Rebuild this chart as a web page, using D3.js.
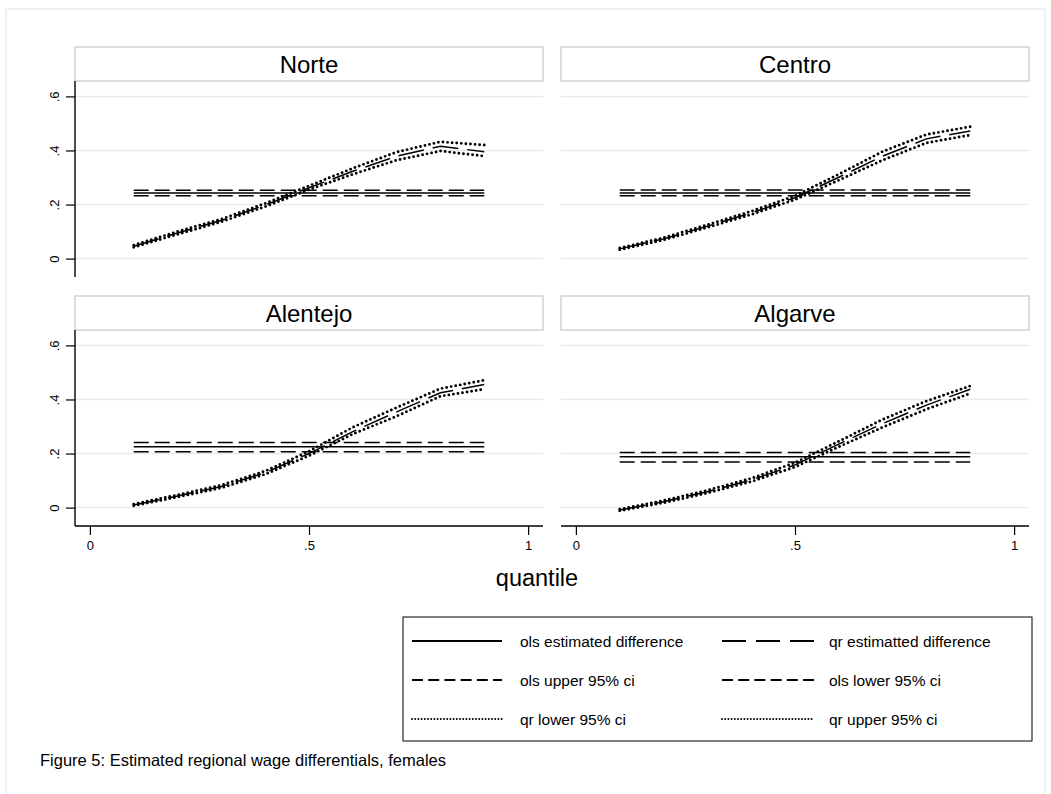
<!DOCTYPE html>
<html>
<head>
<meta charset="utf-8">
<script src="https://cdn.jsdelivr.net/npm/d3@7"></script>
<style>
  body { margin: 0; background: #ffffff; }
  text { font-family: "Liberation Sans", Arial, sans-serif; fill: #000; }
</style>
</head>
<body>
<script>
// Constantes de la visualización
const WIDTH = 1051;
const HEIGHT = 794;

// Datos
const cuantiles = [0.1, 0.2, 0.3, 0.4, 0.5, 0.6, 0.7, 0.8, 0.9];
const regiones = ["Norte", "Centro", "Alentejo", "Algarve"];

const qrNorte = [0.046, 0.095, 0.141, 0.198, 0.262, 0.323, 0.379, 0.416, 0.395];
const qrNorteInf = [0.042, 0.090, 0.136, 0.192, 0.255, 0.312, 0.364, 0.398, 0.379];
const qrNorteSup = [0.050, 0.100, 0.146, 0.204, 0.269, 0.334, 0.394, 0.432, 0.420];
const olsNorte = [0.243, 0.233, 0.253];

const qrCentro = [0.036, 0.073, 0.120, 0.169, 0.225, 0.301, 0.379, 0.443, 0.472];
const qrCentroInf = [0.033, 0.069, 0.115, 0.163, 0.218, 0.290, 0.364, 0.428, 0.457];
const qrCentroSup = [0.039, 0.077, 0.125, 0.175, 0.232, 0.312, 0.396, 0.459, 0.488];
const olsCentro = [0.243, 0.233, 0.254];

const qrAlentejo = [0.010, 0.043, 0.078, 0.129, 0.200, 0.281, 0.354, 0.425, 0.455];
const qrAlentejoInf = [0.007, 0.039, 0.073, 0.123, 0.192, 0.272, 0.338, 0.412, 0.438];
const qrAlentejoSup = [0.013, 0.047, 0.083, 0.135, 0.208, 0.297, 0.370, 0.440, 0.471];
const olsAlentejo = [0.225, 0.207, 0.241];

const qrAlgarve = [-0.009, 0.022, 0.059, 0.102, 0.158, 0.235, 0.311, 0.379, 0.438];
const qrAlgarveInf = [-0.012, 0.018, 0.054, 0.096, 0.150, 0.225, 0.297, 0.364, 0.422];
const qrAlgarveSup = [-0.006, 0.026, 0.064, 0.108, 0.166, 0.245, 0.326, 0.394, 0.450];
const olsAlgarve = [0.188, 0.169, 0.204];

const ticksY = [0, 0.2, 0.4, 0.6];
const ticksX = [0, 0.5, 1];
const etiquetasLeyenda = [
  "ols estimated difference", "qr estimatted difference",
  "ols upper 95% ci", "ols lower 95% ci",
  "qr lower 95% ci", "qr upper 95% ci"
];

const datosPanel = [
  { qr: qrNorte, inf: qrNorteInf, sup: qrNorteSup, ols: olsNorte },
  { qr: qrCentro, inf: qrCentroInf, sup: qrCentroSup, ols: olsCentro },
  { qr: qrAlentejo, inf: qrAlentejoInf, sup: qrAlentejoSup, ols: olsAlentejo },
  { qr: qrAlgarve, inf: qrAlgarveInf, sup: qrAlgarveSup, ols: olsAlgarve },
];

// Estilos de línea (en el gráfico y en la leyenda)
const ESTILOS = {
  olsEst: { dash: null, width: 1.5, cap: "butt", dashLey: null, widthLey: 2 },
  qrEst: { dash: "26,9", width: 1.5, cap: "butt", dashLey: "24,10", widthLey: 2 },
  olsCi: { dash: "15,6", width: 1.5, cap: "butt", dashLey: "11,5.2", widthLey: 2 },
  qrCi: { dash: "0,4.6", width: 2.9, cap: "round", dashLey: "0,3.2", widthLey: 2 },
};

// Geometría de los paneles
const COLS = [75, 561];
const ANCHO_PANEL = 468;
const FILAS = [47, 296];
const ALTO_CABECERA = 34;
const ALTO_PANEL = 196;

const svg = d3.select("body")
  .append("svg")
  .attr("width", WIDTH)
  .attr("height", HEIGHT);

// Marco exterior
svg.append("rect")
  .attr("x", 6).attr("y", 9)
  .attr("width", 1039).attr("height", 800)
  .attr("fill", "none")
  .attr("stroke", "#e6eef1")
  .attr("stroke-width", 1.5);

const escalaX = d3.scaleLinear()
  .domain([-0.034, 1.034])
  .range([0, ANCHO_PANEL]);

const escalaY = d3.scaleLinear()
  .domain([-0.068, 0.657])
  .range([ALTO_PANEL, 0]);

const dibujarLinea = (g, valores, estilo) => {
  const linea = d3.line()
    .x((d, i) => escalaX(cuantiles[i]))
    .y(d => escalaY(d));
  g.append("path")
    .attr("d", linea(valores))
    .attr("fill", "none")
    .attr("stroke", "#000")
    .attr("stroke-width", estilo.width)
    .attr("stroke-linecap", estilo.cap)
    .attr("stroke-dasharray", estilo.dash);
};

const dibujarHorizontal = (g, valor, estilo) => {
  g.append("line")
    .attr("x1", escalaX(cuantiles[0]))
    .attr("x2", escalaX(cuantiles[cuantiles.length - 1]))
    .attr("y1", escalaY(valor))
    .attr("y2", escalaY(valor))
    .attr("stroke", "#000")
    .attr("stroke-width", estilo.width)
    .attr("stroke-dasharray", estilo.dash);
};

regiones.forEach((region, k) => {
  const col = k % 2;
  const fila = Math.floor(k / 2);
  const x0 = COLS[col];
  const y0 = FILAS[fila];

  // Cabecera con el nombre de la región
  svg.append("rect")
    .attr("x", x0).attr("y", y0)
    .attr("width", ANCHO_PANEL).attr("height", ALTO_CABECERA)
    .attr("fill", "#fff")
    .attr("stroke", "#d2d2d2")
    .attr("stroke-width", 1.5);
  svg.append("text")
    .attr("x", x0 + ANCHO_PANEL / 2)
    .attr("y", y0 + ALTO_CABECERA / 2)
    .attr("dy", "0.36em")
    .attr("text-anchor", "middle")
    .attr("font-size", 24)
    .text(region);

  const contenedor = svg.append("g")
    .attr("transform", `translate(${x0}, ${y0 + ALTO_CABECERA})`);

  // Líneas de grilla
  contenedor.selectAll("line.grid")
    .data(ticksY)
    .join("line")
    .attr("class", "grid")
    .attr("x1", 0).attr("x2", ANCHO_PANEL)
    .attr("y1", d => escalaY(d)).attr("y2", d => escalaY(d))
    .attr("stroke", "#e3edf1")
    .attr("stroke-width", 1.5);

  const d = datosPanel[k];
  dibujarHorizontal(contenedor, d.ols[1], ESTILOS.olsCi);
  dibujarHorizontal(contenedor, d.ols[2], ESTILOS.olsCi);
  dibujarHorizontal(contenedor, d.ols[0], ESTILOS.olsEst);
  dibujarLinea(contenedor, d.qr, ESTILOS.qrEst);
  dibujarLinea(contenedor, d.inf, ESTILOS.qrCi);
  dibujarLinea(contenedor, d.sup, ESTILOS.qrCi);

  // Eje Y solo en la columna izquierda
  if (col === 0) {
    const ejeY = contenedor.append("g")
      .call(d3.axisLeft(escalaY).tickValues(ticksY).tickSize(9)
        .tickFormat(v => v === 0 ? "0" : d3.format(".1f")(v).replace(/^0/, "")));
    ejeY.select(".domain").attr("d", `M0,0V${ALTO_PANEL}`).attr("stroke-width", 1.4);
    ejeY.selectAll(".tick line").attr("stroke-width", 1.2);
    ejeY.selectAll(".tick text")
      .attr("font-size", 13)
      .attr("font-family", "Liberation Sans, Arial, sans-serif")
      .attr("text-anchor", "middle")
      .attr("x", null)
      .attr("transform", "translate(-21, 0) rotate(-90)")
      .attr("dy", "0.36em");
  }

  // Eje X solo en la fila inferior
  if (fila === 1) {
    const ejeX = contenedor.append("g")
      .attr("transform", `translate(0, ${ALTO_PANEL})`)
      .call(d3.axisBottom(escalaX).tickValues(ticksX).tickSize(9)
        .tickFormat(v => v === 0.5 ? ".5" : String(v)));
    ejeX.select(".domain").attr("d", `M0,0H${ANCHO_PANEL}`).attr("stroke-width", 1.4);
    ejeX.selectAll(".tick line").attr("stroke-width", 1.2);
    ejeX.selectAll(".tick text")
      .attr("font-size", 13)
      .attr("font-family", "Liberation Sans, Arial, sans-serif")
      .attr("y", 15);
  }
});

// Título del eje X
svg.append("text")
  .attr("x", 537).attr("y", 586)
  .attr("text-anchor", "middle")
  .attr("font-size", 23.5)
  .text("quantile");

// Leyenda
const LEY = { x: 403, y: 617, w: 629, h: 124 };
svg.append("rect")
  .attr("x", LEY.x).attr("y", LEY.y)
  .attr("width", LEY.w).attr("height", LEY.h)
  .attr("fill", "#fff")
  .attr("stroke", "#000")
  .attr("stroke-width", 1);

const estilosLeyenda = [ESTILOS.olsEst, ESTILOS.qrEst, ESTILOS.olsCi, ESTILOS.olsCi, ESTILOS.qrCi, ESTILOS.qrCi];
const colsLeyenda = [{ x1: 412, x2: 502, t: 520 }, { x1: 722, x2: 814, t: 829 }];
const filasLeyenda = [641, 680, 719];

etiquetasLeyenda.forEach((etiqueta, i) => {
  const c = colsLeyenda[i % 2];
  const y = filasLeyenda[Math.floor(i / 2)];
  const est = estilosLeyenda[i];
  svg.append("line")
    .attr("x1", c.x1).attr("x2", c.x2)
    .attr("y1", y).attr("y2", y)
    .attr("stroke", "#000")
    .attr("stroke-width", est.widthLey)
    .attr("stroke-linecap", est.cap)
    .attr("stroke-dasharray", est.dashLey);
  svg.append("text")
    .attr("x", c.t).attr("y", y)
    .attr("dy", "0.36em")
    .attr("font-size", 15.5)
    .text(etiqueta);
});

// Pie de figura
svg.append("text")
  .attr("x", 40).attr("y", 766)
  .attr("font-size", 16.5)
  .text("Figure 5: Estimated regional wage differentials, females");
</script>
</body>
</html>
